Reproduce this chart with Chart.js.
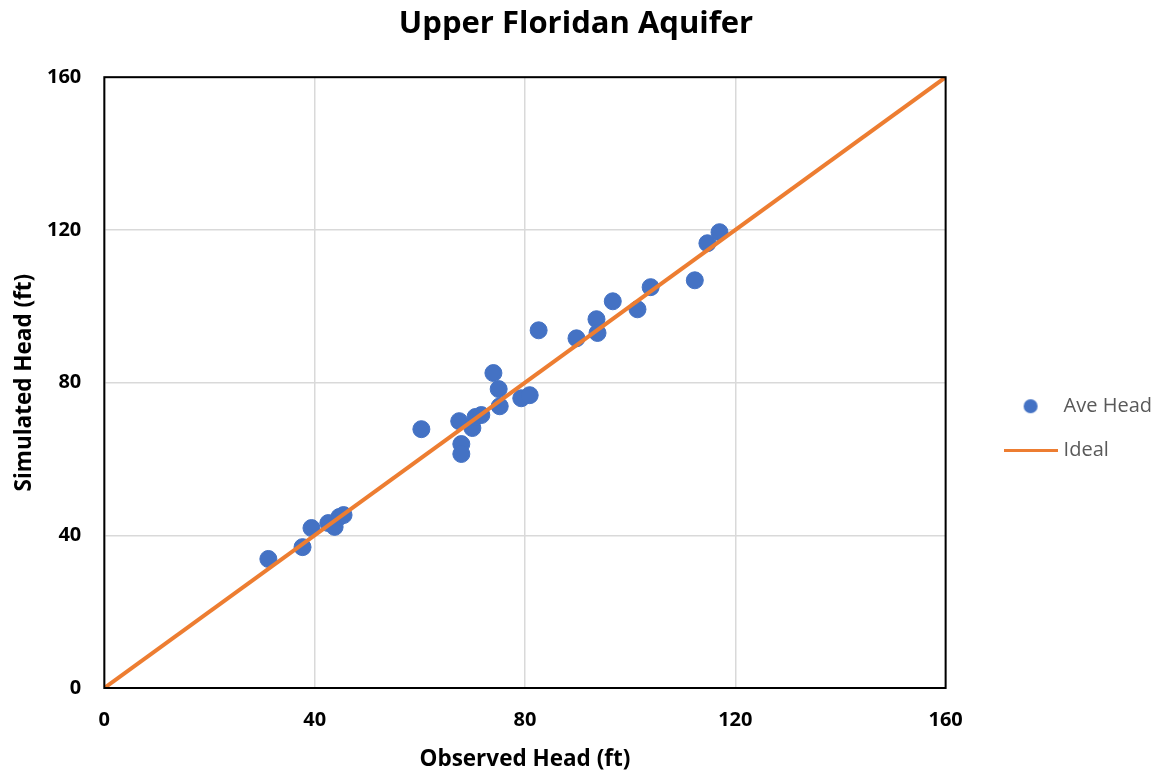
<!DOCTYPE html>
<html>
<head>
<meta charset="utf-8">
<script src="https://cdn.jsdelivr.net/npm/chart.js@4/dist/chart.umd.min.js"></script>
<style>
  html, body { margin: 0; padding: 0; background: #ffffff; }
  #wrap { width: 1164px; height: 778px; }
</style>
</head>
<body>
<div id="wrap"><canvas id="c" width="1164" height="778"></canvas></div>
<script>
const chartTitle = 'Upper Floridan Aquifer';
const xAxisTitle = 'Observed Head (ft)';
const yAxisTitle = 'Simulated Head (ft)';
const seriesNames = ['Ave Head', 'Ideal'];

const observedHead = [31.2, 37.7, 39.4, 42.6, 43.8, 44.7, 45.5,
  60.3, 67.5, 67.9, 67.9, 70.0, 70.6, 71.7, 74.0, 75.0, 75.2, 79.3, 80.9,
  82.6, 89.8, 93.6, 93.8, 96.7, 101.4, 103.9, 112.3, 114.7, 117.0];
const simulatedHead = [33.8, 36.9, 41.9, 43.2, 42.2, 44.8, 45.3,
  67.8, 69.9, 63.9, 61.3, 68.1, 71.0, 71.5, 82.5, 78.3, 73.8, 75.9, 76.7,
  93.7, 91.6, 96.6, 93.0, 101.3, 99.2, 105.0, 106.8, 116.5, 119.4];
const idealX = [0, 160];
const idealY = [0, 160];
const axisMin = 0, axisMax = 160, axisStep = 40;

const blue = '#4472C4';
const orange = '#ED7D31';

function makeCircleImg(r, color) {
  const cv = document.createElement('canvas');
  cv.width = r * 2 + 2; cv.height = r * 2 + 2;
  const g = cv.getContext('2d');
  g.fillStyle = color; g.beginPath(); g.arc(r + 1, r + 1, r, 0, Math.PI * 2); g.fill();
  return cv;
}
function makeLineImg(w, h, color) {
  const cv = document.createElement('canvas');
  cv.width = w; cv.height = h;
  const g = cv.getContext('2d');
  g.fillStyle = color; g.fillRect(0, 0, w, h);
  return cv;
}
const legendImgs = [makeCircleImg(7, blue), makeLineImg(54, 3, orange)];

const frame = {
  id: 'frame',
  afterDatasetsDraw(chart) {
    const a = chart.chartArea, ctx = chart.ctx;
    ctx.save();
    ctx.strokeStyle = '#000000';
    ctx.lineWidth = 2;
    ctx.strokeRect(a.left, a.top, a.right - a.left, a.bottom - a.top);
    ctx.restore();
  }
};
const legendShift = {
  id: 'legendShift',
  afterLayout(chart) {
    const lg = chart.legend;
    if (lg) { lg.left += 38; lg.right += 38; }
  }
};

const ctx = document.getElementById('c').getContext('2d');
new Chart(ctx, {
  type: 'scatter',
  data: {
    datasets: [
      {
        label: seriesNames[0],
        data: observedHead.map((x, i) => ({ x: x, y: simulatedHead[i] })),
        backgroundColor: blue,
        borderColor: blue,
        pointRadius: 8.5,
        pointHoverRadius: 8.5,
        order: 1
      },
      {
        type: 'line',
        label: seriesNames[1],
        data: idealX.map((x, i) => ({ x: x, y: idealY[i] })),
        borderColor: orange,
        backgroundColor: orange,
        borderWidth: 4,
        pointRadius: 0,
        fill: false,
        order: 0
      }
    ]
  },
  options: {
    responsive: false,
    animation: false,
    devicePixelRatio: 1,
    layout: { padding: { top: 4, right: 40, bottom: 5, left: 28 } },
    plugins: {
      title: {
        display: true,
        text: chartTitle,
        color: '#000000',
        font: { family: 'Open Sans', size: 31, weight: 'bold' },
        padding: { top: 2, bottom: 34 }
      },
      legend: {
        display: true,
        position: 'right',
        title: { display: true, text: ' ', padding: { top: 39, bottom: 38 }, font: { size: 2 } },
        labels: {
          usePointStyle: true,
          pointStyleWidth: 46,
          padding: 24,
          color: '#595959',
          font: { family: 'Open Sans', size: 20 },
          generateLabels(chart) {
            return chart.data.datasets.map((d, i) => ({
              text: d.label,
              fillStyle: d.backgroundColor,
              strokeStyle: d.borderColor,
              lineWidth: 0,
              pointStyle: legendImgs[i],
              hidden: false,
              datasetIndex: i,
              fontColor: '#595959'
            }));
          }
        }
      },
      tooltip: { enabled: false }
    },
    scales: {
      x: {
        type: 'linear',
        min: axisMin, max: axisMax,
        ticks: { stepSize: axisStep, color: '#000000', font: { family: 'Open Sans', size: 20, weight: 'bold' }, padding: 20 },
        grid: { color: '#d9d9d9', lineWidth: 1.5, drawTicks: false },
        border: { display: false },
        title: { display: true, text: xAxisTitle, color: '#000000', font: { family: 'Open Sans', size: 22.5, weight: 'bold' }, padding: { top: -6, bottom: 0 } }
      },
      y: {
        type: 'linear',
        min: axisMin, max: axisMax,
        ticks: { stepSize: axisStep, color: '#000000', font: { family: 'Open Sans', size: 20, weight: 'bold' }, padding: 23 },
        grid: { color: '#d9d9d9', lineWidth: 1.5, drawTicks: false },
        border: { display: false },
        title: { display: true, text: yAxisTitle, color: '#000000', font: { family: 'Open Sans', size: 22.5, weight: 'bold' }, padding: { top: -17, bottom: -14 } }
      }
    }
  },
  plugins: [frame, legendShift]
});
</script>
</body>
</html>
